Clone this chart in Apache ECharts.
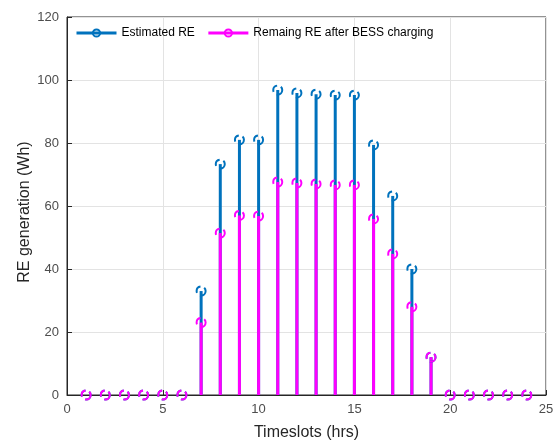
<!DOCTYPE html>
<html><head><meta charset="utf-8">
<script src="https://cdn.jsdelivr.net/npm/echarts@6/dist/echarts.min.js"></script>
<style>html,body{margin:0;padding:0;background:#fff}#c{width:555px;height:443px}</style>
</head><body><div id="c"></div>
<script>
const timeslots = [1,2,3,4,5,6,7,8,9,10,11,12,13,14,15,16,17,18,19,20,21,22,23,24];
const estimatedRE = [0,0,0,0,0,0,33,73.3,81,81,96.8,95.9,95.5,95.2,95.2,79.4,63.2,40,12,0,0,0,0,0];
const remainingRE = [0,0,0,0,0,0,23,51.4,57,56.8,67.6,67.3,67,66.7,66.7,55.9,44.8,28,12,0,0,0,0,0];
const xTicks = [0,5,10,15,20,25];
const yTicks = [0,20,40,60,80,100,120];
const seriesNames = ['Estimated RE','Remaing RE after BESS charging'];

const blue = '#0072BD', mag = '#FF00FF';
const pairs = a => timeslots.map((t,i)=>[t,a[i]]);
const font = 'Liberation Sans, Arial, sans-serif';

const chart = echarts.init(document.getElementById('c'));
chart.setOption({
  animation:false,
  grid:{left:67,right:9,top:17,bottom:48,show:true,borderColor:'#262626',borderWidth:1,backgroundColor:'transparent',outerBoundsMode:'none',containLabel:false},
  legend:{
    data:seriesNames, left:70, top:22, itemWidth:40, itemHeight:9, itemGap:12,
    textStyle:{fontFamily:font,fontSize:12,color:'#000'},
    lineStyle:{width:3,opacity:1}
  },
  xAxis:{type:'value',min:xTicks[0],max:xTicks[xTicks.length-1],interval:5,
    name:'Timeslots (hrs)',nameLocation:'middle',nameGap:30,nameMoveOverlap:false,
    nameTextStyle:{fontFamily:font,fontSize:16,color:'#262626'},
    axisLine:{lineStyle:{color:'#262626'}},axisTick:{inside:true,length:5,lineStyle:{color:'#262626'}},
    axisLabel:{fontFamily:font,fontSize:13,color:'#4d4d4d',margin:8},
    splitLine:{show:true,lineStyle:{color:'#e3e3e3'}}},
  yAxis:{type:'value',min:yTicks[0],max:yTicks[yTicks.length-1],interval:20,
    name:'RE generation (Wh)',nameLocation:'middle',nameGap:34,nameMoveOverlap:false,
    nameTextStyle:{fontFamily:font,fontSize:16,color:'#262626',padding:[0,12,0,0]},
    axisLine:{show:true,lineStyle:{color:'#262626'}},axisTick:{show:true,inside:true,length:5,lineStyle:{color:'#262626'}},
    axisLabel:{fontFamily:font,fontSize:13,color:'#4d4d4d',margin:8},
    splitLine:{show:true,lineStyle:{color:'#e3e3e3'}}},
  series:[
    {type:'bar',name:'stem1',data:pairs(estimatedRE),barWidth:3,barGap:'-100%',itemStyle:{color:blue},silent:true,z:2},
    {type:'bar',name:'stem2',data:pairs(remainingRE),barWidth:3,barGap:'-100%',itemStyle:{color:mag},silent:true,z:3},
    {type:'line',name:seriesNames[0],data:pairs(estimatedRE),symbol:'circle',symbolSize:9,
      lineStyle:{opacity:0,color:blue},itemStyle:{color:'rgba(0,0,0,0)',borderColor:blue,borderWidth:2,borderType:'dashed'},color:blue,z:4},
    {type:'line',name:seriesNames[1],data:pairs(remainingRE),symbol:'circle',symbolSize:9,
      lineStyle:{opacity:0,color:mag},itemStyle:{color:'rgba(0,0,0,0)',borderColor:mag,borderWidth:2,borderType:'dashed'},color:mag,z:5}
  ]
});
</script></body></html>
